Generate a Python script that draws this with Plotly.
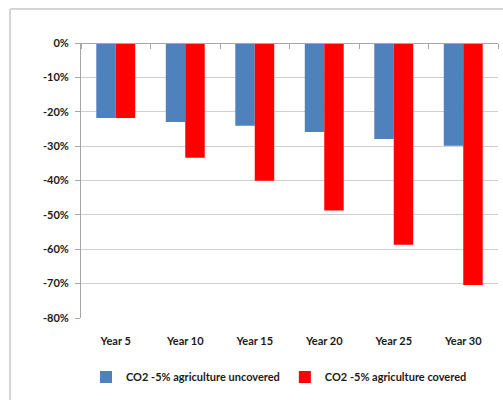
import plotly.graph_objects as go

categories = ["Year 5", "Year 10", "Year 15", "Year 20", "Year 25", "Year 30"]
uncovered = [-0.218, -0.230, -0.241, -0.259, -0.279, -0.299]
covered = [-0.218, -0.334, -0.401, -0.487, -0.587, -0.704]
series_names = ["CO2 -5% agriculture uncovered", "CO2 -5% agriculture covered"]
ytick_vals = [0, -0.1, -0.2, -0.3, -0.4, -0.5, -0.6, -0.7, -0.8]
ytick_text = ["0%", "-10%", "-20%", "-30%", "-40%", "-50%", "-60%", "-70%", "-80%"]

FAM = "Lato, Open Sans, sans-serif"
TXT = dict(family=FAM, size=11, color="#1a1a1a", weight="bold")
GRID = "#cfcfcf"
AXIS = "#a6a6a6"

fig = go.Figure()
fig.add_trace(go.Bar(x=categories, y=uncovered, name=series_names[0],
                     marker=dict(color="#4F81BD", line=dict(width=0))))
fig.add_trace(go.Bar(x=categories, y=covered, name=series_names[1],
                     marker=dict(color="#FF0000", line=dict(width=0))))
# helper invisible trace for the category axis drawn along 0%
fig.add_trace(go.Scatter(x=categories, y=[0] * len(categories), xaxis="x2",
                         mode="markers", marker=dict(opacity=0),
                         showlegend=False, hoverinfo="skip"))

W, H = 503, 400
L, R, T, B = 81, 5, 43, 82
pw, ph = W - L - R, H - T - B

fig.update_layout(
    width=W, height=H,
    margin=dict(l=L, r=R, t=T, b=B),
    paper_bgcolor="white", plot_bgcolor="white",
    barmode="group", bargap=0.44, bargroupgap=0,
    font=TXT,
    showlegend=True,
    legend=dict(orientation="h", x=(279 - L) / pw, xanchor="center",
                y=(H - B - 377) / ph, yanchor="middle",
                font=dict(family=FAM, size=11, color="#1a1a1a", weight="bold"),
                traceorder="normal", itemwidth=30, itemsizing="constant"),
    xaxis=dict(type="category", showline=False, ticks="", showgrid=False,
               tickfont=TXT, ticklabelstandoff=15, range=[-0.5, 5.5]),
    xaxis2=dict(type="category", overlaying="x", anchor="free", position=1, side="bottom",
                showticklabels=False, ticks="outside", ticklen=5, tickcolor=AXIS,
                tickson="boundaries", showline=True, linecolor=AXIS, linewidth=1,
                showgrid=False, range=[-0.5, 5.5]),
    yaxis=dict(range=[-0.8, 0], tickvals=ytick_vals, ticktext=ytick_text,
               showgrid=True, gridcolor=GRID, gridwidth=1, zeroline=False,
               showline=True, linecolor=AXIS, ticks="outside", ticklen=5, tickcolor=AXIS,
               tickfont=TXT, ticklabelstandoff=4),
)

# outer chart frame (extends past the right and bottom edges)
fx0 = (10 - L) / pw
fy1 = (H - B - 9) / ph
fig.add_shape(type="line", xref="paper", yref="paper", x0=fx0, x1=1.2, y0=fy1, y1=fy1,
              line=dict(color="#c8c8c8", width=1.5))
fig.add_shape(type="line", xref="paper", yref="paper", x0=fx0, x1=fx0, y0=-0.5, y1=fy1,
              line=dict(color="#c8c8c8", width=1.5))

fig.write_html("out.html")
